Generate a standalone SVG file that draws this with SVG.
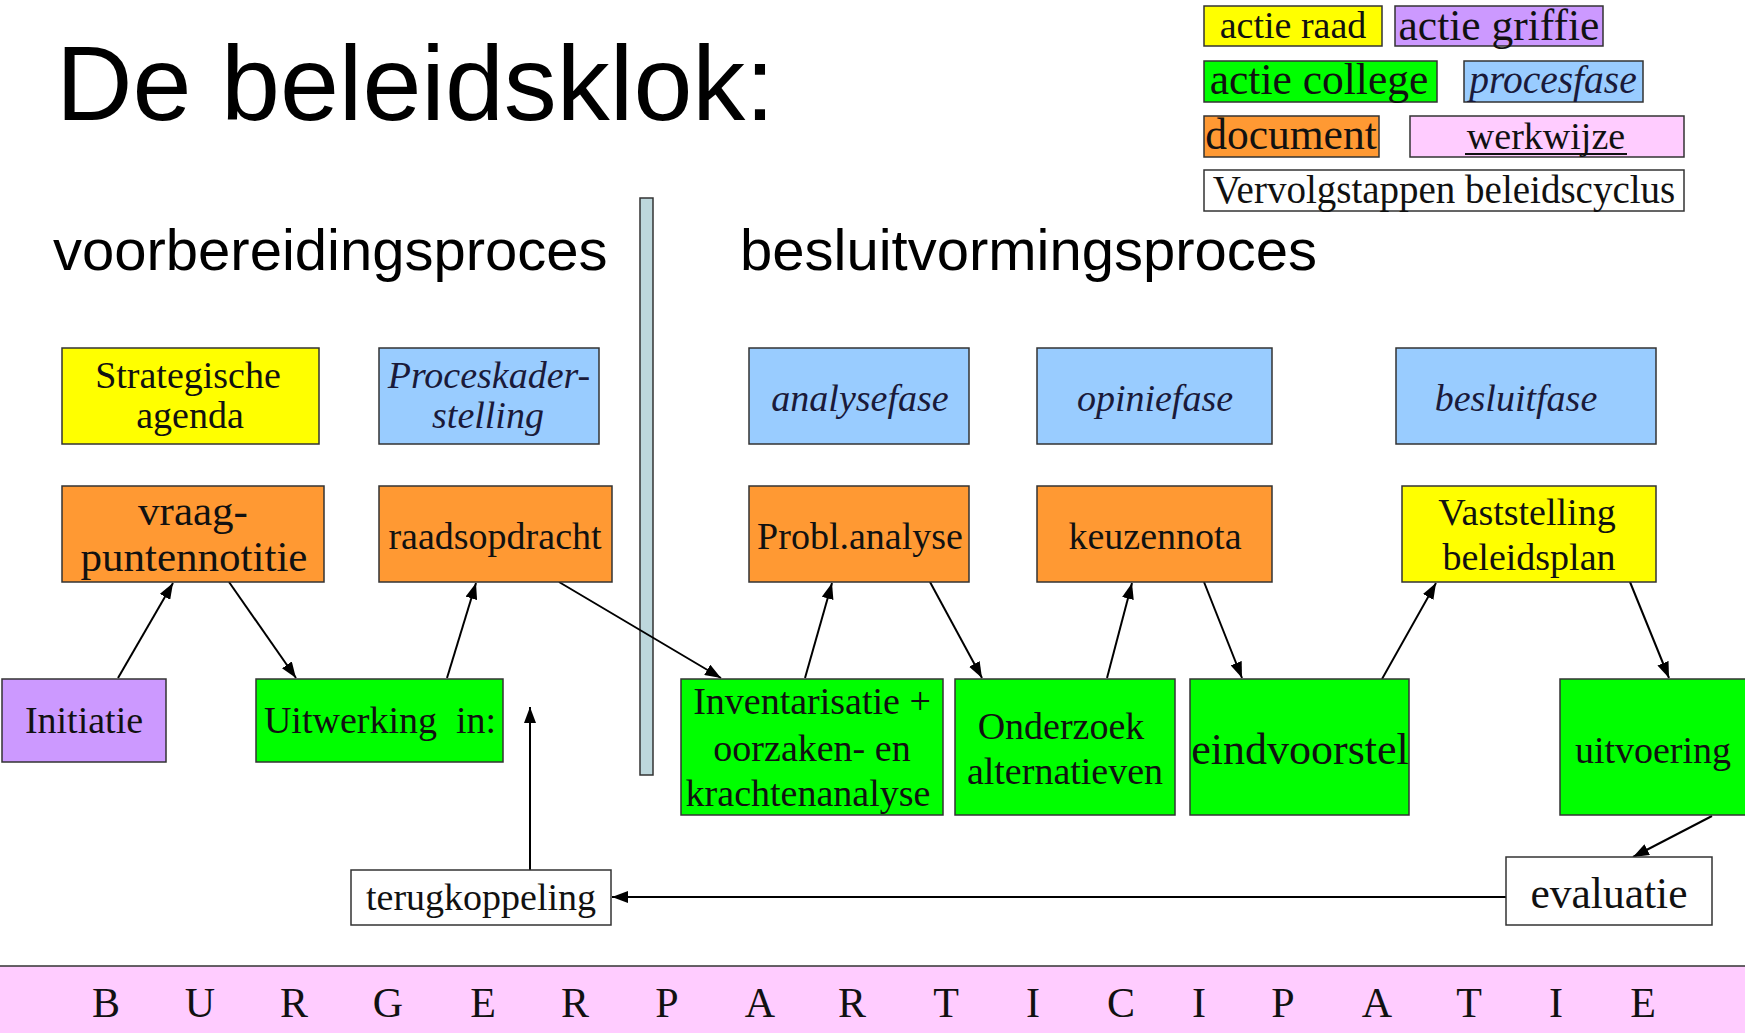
<svg xmlns="http://www.w3.org/2000/svg" width="1745" height="1033" viewBox="0 0 1745 1033">
<style>
  .box{stroke:#333;stroke-width:1.5}
  .y{fill:#ffff00}.p{fill:#cc99ff}.g{fill:#00ff00}.b{fill:#99ccff}.o{fill:#ff9933}.k{fill:#ffccff}.w{fill:#fff}
  .t{font-family:"Liberation Serif","Times New Roman",serif;font-size:38px;fill:#111;text-anchor:middle}
  .i{font-style:italic;fill:#1a1a3a}
  .h{font-family:"Liberation Sans",Arial,sans-serif;fill:#000}
  .c{stroke:#000;stroke-width:2;fill:none;marker-end:url(#ah)}
</style>
<defs>
  <marker id="ah" viewBox="0 0 16 12" refX="16" refY="6" markerWidth="16" markerHeight="12" markerUnits="userSpaceOnUse" orient="auto">
    <path d="M0,0 L16,6 L0,12 z" fill="#000"/>
  </marker>
</defs>
<rect width="1745" height="1033" fill="#fff"/>

<text class="h" x="56" y="120" font-size="106">De beleidsklok:</text>
<text class="h" x="53" y="270" font-size="58">voorbereidingsproces</text>
<text class="h" x="740" y="270" font-size="58">besluitvormingsproces</text>

<rect x="640" y="198" width="13" height="577" fill="#bdd7dc" stroke="#333" stroke-width="1.5"/>

<g id="legend">
  <g id="leg-raad"><rect class="box y" x="1204" y="6" width="178" height="40"/><text class="t" x="1293" y="38">actie raad</text></g>
  <g id="leg-griffie"><rect class="box p" x="1395" y="6" width="208" height="40"/><text class="t" x="1499" y="40" style="font-size:43.5px">actie griffie</text></g>
  <g id="leg-college"><rect class="box g" x="1204" y="61" width="233" height="41"/><text class="t" x="1319" y="94" style="font-size:43.5px">actie college</text></g>
  <g id="leg-procesfase"><rect class="box b" x="1464" y="61" width="179" height="41"/><text class="t i" x="1553" y="93" style="font-size:39.5px">procesfase</text></g>
  <g id="leg-document"><rect class="box o" x="1204" y="116" width="175" height="41"/><text class="t" x="1291" y="149" style="font-size:43.5px">document</text></g>
  <g id="leg-werkwijze"><rect class="box k" x="1410" y="116" width="274" height="41"/><text class="t" x="1546" y="149">werkwijze</text><line x1="1465" y1="154" x2="1627" y2="154" stroke="#111" stroke-width="2"/></g>
  <g id="leg-vervolg"><rect class="box w" x="1204" y="170" width="480" height="41"/><text class="t" x="1444" y="203" style="font-size:39px">Vervolgstappen beleidscyclus</text></g>
</g>

<g id="connectors">
  <line class="c" x1="118" y1="678" x2="173" y2="583"/>
  <line class="c" x1="229" y1="582" x2="296" y2="678"/>
  <line class="c" x1="447" y1="678" x2="476" y2="583"/>
  <line class="c" x1="559" y1="582" x2="721" y2="678"/>
  <line class="c" x1="805" y1="678" x2="832" y2="583"/>
  <line class="c" x1="930" y1="582" x2="982" y2="678"/>
  <line class="c" x1="1107" y1="678" x2="1132" y2="583"/>
  <line class="c" x1="1204" y1="582" x2="1242" y2="678"/>
  <line class="c" x1="1382" y1="679" x2="1436" y2="583"/>
  <line class="c" x1="1630" y1="582" x2="1669" y2="678"/>
  <line class="c" x1="1712" y1="816" x2="1633" y2="857"/>
  <line class="c" x1="1506" y1="897" x2="612" y2="897"/>
  <line class="c" x1="530" y1="870" x2="530" y2="707"/>
</g>

<g id="n-strategische"><rect class="box y" x="62" y="348" width="257" height="96"/><text class="t" x="188" y="388">Strategische</text><text class="t" x="190" y="428">agenda</text></g>
<g id="n-proceskader"><rect class="box b" x="379" y="348" width="220" height="96"/><text class="t i" x="489" y="388">Proceskader-</text><text class="t i" x="488" y="428">stelling</text></g>
<g id="n-vraag"><rect class="box o" x="62" y="486" width="262" height="96"/><text class="t" x="193" y="525" style="font-size:43px">vraag-</text><text class="t" x="194" y="571" style="font-size:43px">puntennotitie</text></g>
<g id="n-raadsopdracht"><rect class="box o" x="379" y="486" width="233" height="96"/><text class="t" x="495" y="549">raadsopdracht</text></g>
<g id="n-initiatie"><rect class="box p" x="2" y="679" width="164" height="83"/><text class="t" x="84" y="733">Initiatie</text></g>
<g id="n-uitwerking"><rect class="box g" x="256" y="679" width="247" height="83"/><text class="t" x="380" y="733" xml:space="preserve">Uitwerking  in:</text></g>

<g id="n-analysefase"><rect class="box b" x="749" y="348" width="220" height="96"/><text class="t i" x="860" y="411">analysefase</text></g>
<g id="n-opiniefase"><rect class="box b" x="1037" y="348" width="235" height="96"/><text class="t i" x="1155" y="411">opiniefase</text></g>
<g id="n-besluitfase"><rect class="box b" x="1396" y="348" width="260" height="96"/><text class="t i" x="1516" y="411">besluitfase</text></g>
<g id="n-probl"><rect class="box o" x="749" y="486" width="220" height="96"/><text class="t" x="860" y="549">Probl.analyse</text></g>
<g id="n-keuzennota"><rect class="box o" x="1037" y="486" width="235" height="96"/><text class="t" x="1155" y="549">keuzennota</text></g>
<g id="n-vaststelling"><rect class="box y" x="1402" y="486" width="254" height="96"/><text class="t" x="1527" y="525">Vaststelling</text><text class="t" x="1529" y="570">beleidsplan</text></g>

<g id="n-inventarisatie"><rect class="box g" x="681" y="679" width="262" height="136"/><text class="t" x="812" y="714">Inventarisatie +</text><text class="t" x="812" y="761">oorzaken- en</text><text class="t" x="808" y="806">krachtenanalyse</text></g>
<g id="n-onderzoek"><rect class="box g" x="955" y="679" width="220" height="136"/><text class="t" x="1061" y="739">Onderzoek</text><text class="t" x="1065" y="784">alternatieven</text></g>
<g id="n-eindvoorstel"><rect class="box g" x="1190" y="679" width="219" height="136"/><text class="t" x="1300" y="764" style="font-size:44px">eindvoorstel</text></g>
<g id="n-uitvoering"><rect class="box g" x="1560" y="679" width="190" height="136"/><text class="t" x="1653" y="763">uitvoering</text></g>

<g id="n-terugkoppeling"><rect class="box w" x="351" y="870" width="260" height="55"/><text class="t" x="481" y="910">terugkoppeling</text></g>
<g id="n-evaluatie"><rect class="box w" x="1506" y="857" width="206" height="68"/><text class="t" x="1609" y="908" style="font-size:43.5px">evaluatie</text></g>

<g id="n-burger"><rect class="box k" x="-2" y="966" width="1750" height="70"/>
<text class="t" y="1017" style="font-size:42px" x="106 200 294 388 483 575 667 760 852 946 1033 1121 1199 1283 1377 1469 1556 1643">BURGERPARTICIPATIE</text></g>
</svg>
